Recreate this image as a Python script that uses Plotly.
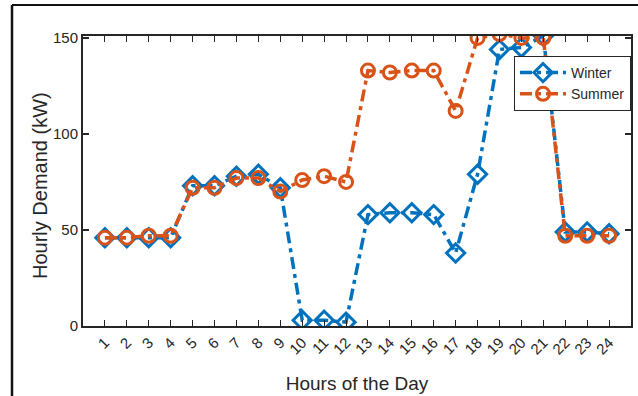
import plotly.graph_objects as go

hours = list(range(1, 25))
tick_labels = [str(h) for h in hours]
winter = [46, 46, 46, 46, 73, 73, 78, 79, 72, 3, 3, 2, 58, 59, 59, 58, 38, 79, 144, 145, 151, 49, 49, 48]
summer = [46, 46, 47, 47, 72, 72, 77, 77, 70, 76, 78, 75, 133, 132, 133, 133, 112, 150, 152, 150, 150, 47, 47, 47]

BLUE = "#0072BD"
ORANGE = "#D95319"
INK = "#262626"
FONT = "Liberation Sans, Arial, sans-serif"
DASH = "12px,5px,4px,5px"

fig = go.Figure()
fig.add_trace(go.Scatter(
    x=hours, y=winter, name="Winter", mode="lines+markers",
    line=dict(color=BLUE, width=3.5, dash=DASH),
    marker=dict(symbol="diamond-open", size=14, color=BLUE, line=dict(width=3, color=BLUE)),
))
fig.add_trace(go.Scatter(
    x=hours, y=summer, name="Summer", mode="lines+markers",
    line=dict(color=ORANGE, width=3.5, dash=DASH),
    marker=dict(symbol="circle-open", size=13, color=ORANGE, line=dict(width=3, color=ORANGE)),
))

L, R, T, B = 83, 631, 36, 326
W, H = 638, 396
pw, ph = R - L, B - T
def px_x(px):
    return (px - L) / pw
def px_y(py):
    return (B - py) / ph

fig.update_layout(
    width=W, height=H,
    margin=dict(l=L, r=W - R, t=T, b=H - B, pad=0, autoexpand=False),
    paper_bgcolor="white", plot_bgcolor="white",
    font=dict(family=FONT, color=INK, size=14),
    showlegend=True,
    legend=dict(
        x=1, xanchor="right", y=px_y(56), yanchor="top",
        bgcolor="white", bordercolor=INK, borderwidth=1,
        font=dict(family=FONT, size=14, color=INK),
        tracegroupgap=0, itemwidth=46,
    ),
    xaxis=dict(
        range=[0, 25], tickmode="array", tickvals=hours, ticktext=tick_labels,
        tickangle=-45, ticks="inside", ticklen=6, tickwidth=1, tickcolor=INK,
        showline=True, linecolor=INK, linewidth=2, mirror="ticks",
        showgrid=False, zeroline=False, automargin=False,
        tickfont=dict(family=FONT, size=15, color=INK),
        title=dict(text="Hours of the Day", font=dict(family=FONT, size=19, color=INK), standoff=20),
    ),
    yaxis=dict(
        range=[0, 151], tickmode="array", tickvals=[0, 50, 100, 150],
        ticks="inside", ticklen=6, tickwidth=1.5, tickcolor=INK,
        showline=True, linecolor=INK, linewidth=2, mirror="ticks",
        showgrid=False, zeroline=False, automargin=False,
        tickfont=dict(family=FONT, size=15, color=INK),
    ),
    annotations=[
        dict(text="Hourly Demand (kW)", xref="paper", yref="paper", x=px_x(40), y=px_y(186),
             xanchor="center", yanchor="middle", textangle=-90, showarrow=False,
             font=dict(family=FONT, size=20, color=INK)),
    ],
    shapes=[
        dict(type="line", xref="paper", yref="paper", x0=px_x(12), x1=px_x(W + 2), y0=px_y(5), y1=px_y(5),
             line=dict(color="#111111", width=2)),
        dict(type="line", xref="paper", yref="paper", x0=px_x(12), x1=px_x(12), y0=px_y(5), y1=px_y(H + 2),
             line=dict(color="#111111", width=2.5)),
    ],
)

fig.write_html(
    "out.html",
    config={"displayModeBar": False},
    post_script="document.body.style.margin='0';document.body.style.overflow='hidden';",
)
